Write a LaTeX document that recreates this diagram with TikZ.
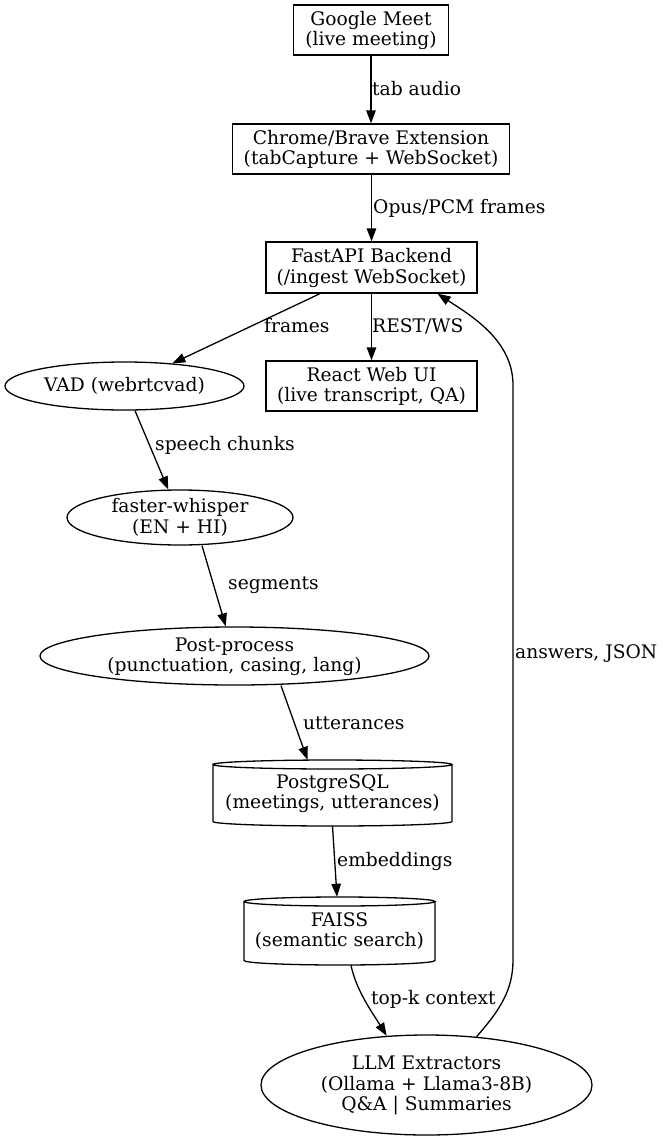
\documentclass[tikz,border=0pt]{standalone}
\usepackage{fontspec}
\setmainfont{DejaVu Serif}
\usetikzlibrary{arrows.meta,shapes.geometric}
\newcommand\ztext[1]{\smash{\makebox[0pt]{\raisebox{-5.5pt}{\begin{tabular}{@{}c@{}}#1\end{tabular}}}}}
\newcommand\mycyl[5]{%
 \pgfmathsetmacro\cL{#1-#2}\pgfmathsetmacro\cR{#1+#2}%
 \pgfmathsetmacro\kx{0.5523*#2}\pgfmathsetmacro\ky{0.5523*#5}%
 \pgfmathsetmacro\yT{#3+#5}\pgfmathsetmacro\yB{#4-#5}\pgfmathsetmacro\yM{#3+2*#5}%
 \draw[line width=1.3pt] (\cL,\yT) .. controls (\cL,\yT-\ky) and (#1-\kx,#3) .. (#1,#3)
   .. controls (#1+\kx,#3) and (\cR,\yT-\ky) .. (\cR,\yT)
   .. controls (\cR,\yT+\ky) and (#1+\kx,\yM) .. (#1,\yM)
   .. controls (#1-\kx,\yM) and (\cL,\yT+\ky) .. (\cL,\yT)
   -- (\cL,\yB) .. controls (\cL,\yB+\ky) and (#1-\kx,#4) .. (#1,#4)
   .. controls (#1+\kx,#4) and (\cR,\yB+\ky) .. (\cR,\yB) -- (\cR,\yT);
}
\begin{document}
\begin{tikzpicture}[x=1pt,y=-1pt,
  every node/.style={font=\fontsize{18.67}{20.5}\selectfont},
  box/.style={draw, rectangle, inner sep=0, line width=1.3pt},
  oval/.style={draw, ellipse, inner sep=0, line width=1.3pt},
  cylbox/.style={rectangle, inner sep=0},
  lbl/.style={anchor=west, inner sep=0},
  edge/.style={line width=1.3pt, -{Triangle[length=13pt,width=9.5pt]}},
]
\fill[white] (0,0) rectangle (663,1140);
\useasboundingbox (0,0) rectangle (663,1140);

\node[box, minimum width=155, minimum height=50] (meet) at (371,30) {\ztext{Google Meet\\(live meeting)}};
\node[box, minimum width=277, minimum height=50] (chrome) at (371,149) {\ztext{Chrome/Brave Extension\\(tabCapture + WebSocket)}};
\node[box, minimum width=211, minimum height=51] (fa) at (371.5,267.5) {\ztext{FastAPI Backend\\(/ingest WebSocket)}};
\node[box, minimum width=211, minimum height=50] (react) at (371.5,386) {\ztext{React Web UI\\(live transcript, QA)}};
\node[oval, minimum width=239, minimum height=48] (vad) at (124.5,386) {\ztext{VAD (webrtcvad)}};
\node[oval, minimum width=226, minimum height=55] (whisper) at (180,517.5) {\ztext{faster-whisper\\(EN + HI)}};
\node[oval, minimum width=389, minimum height=58] (post) at (234.5,656) {\ztext{Post-process\\(punctuation, casing, lang)}};
\mycyl{332.5}{119.5}{760}{826}{4.5}
\node[cylbox, minimum width=239, minimum height=66] (pg) at (332.5,793) {\ztext{PostgreSQL\\(meetings, utterances)}};
\mycyl{339.5}{95.5}{897}{965}{4.5}
\node[cylbox, minimum width=191, minimum height=68] (faiss) at (339.5,931) {\ztext{FAISS\\(semantic search)}};
\node[oval, minimum width=331, minimum height=100] (llm) at (426.5,1085) {\ztext{LLM Extractors\\(Ollama + Llama3-8B)\\Q\&A | Summaries}};

\draw[edge] (meet) -- (chrome);
\draw[edge] (chrome.south -| fa.north) -- (fa);
\draw[edge] ([xshift=-51.5pt]fa.south) -- (vad);
\draw[edge] (fa) -- (react);
\draw[edge] ([xshift=10.5pt]vad.south) -- (whisper);
\draw[edge] ([xshift=22pt]whisper.south) -- (post);
\draw[edge] ([xshift=46.5pt]post.south) -- ([xshift=-25pt]pg.north);
\draw[edge] (pg.south) -- ([xshift=-2.5pt]faiss.north);
\draw[edge] ([xshift=11.5pt]faiss.south) .. controls (356,990) and (372,1012) .. (llm.129);
\draw[edge] (llm.44) .. controls (500,1010) and (513,990) .. (513,960) -- (513,385) .. controls (513,340) and (470,315) .. ([xshift=66pt]fa.south);

\node[lbl] (l1) at (372,89) {tab audio};
\node[lbl] (l2) at (373,208) {Opus/PCM frames};
\node[lbl] (l3) at (264,326) {frames};
\node[lbl] (l4) at (372,326) {REST/WS};
\node[lbl] (l5) at (155,445) {speech chunks};
\node[lbl] (l6) at (228,585) {segments};
\node[lbl] (l7) at (303,723) {utterances};
\node[lbl] (l8) at (337,861) {embeddings};
\node[lbl] (l9) at (371,999) {top-k context};
\node[lbl] (l10) at (515,654) {answers, JSON};
\end{tikzpicture}
\end{document}
